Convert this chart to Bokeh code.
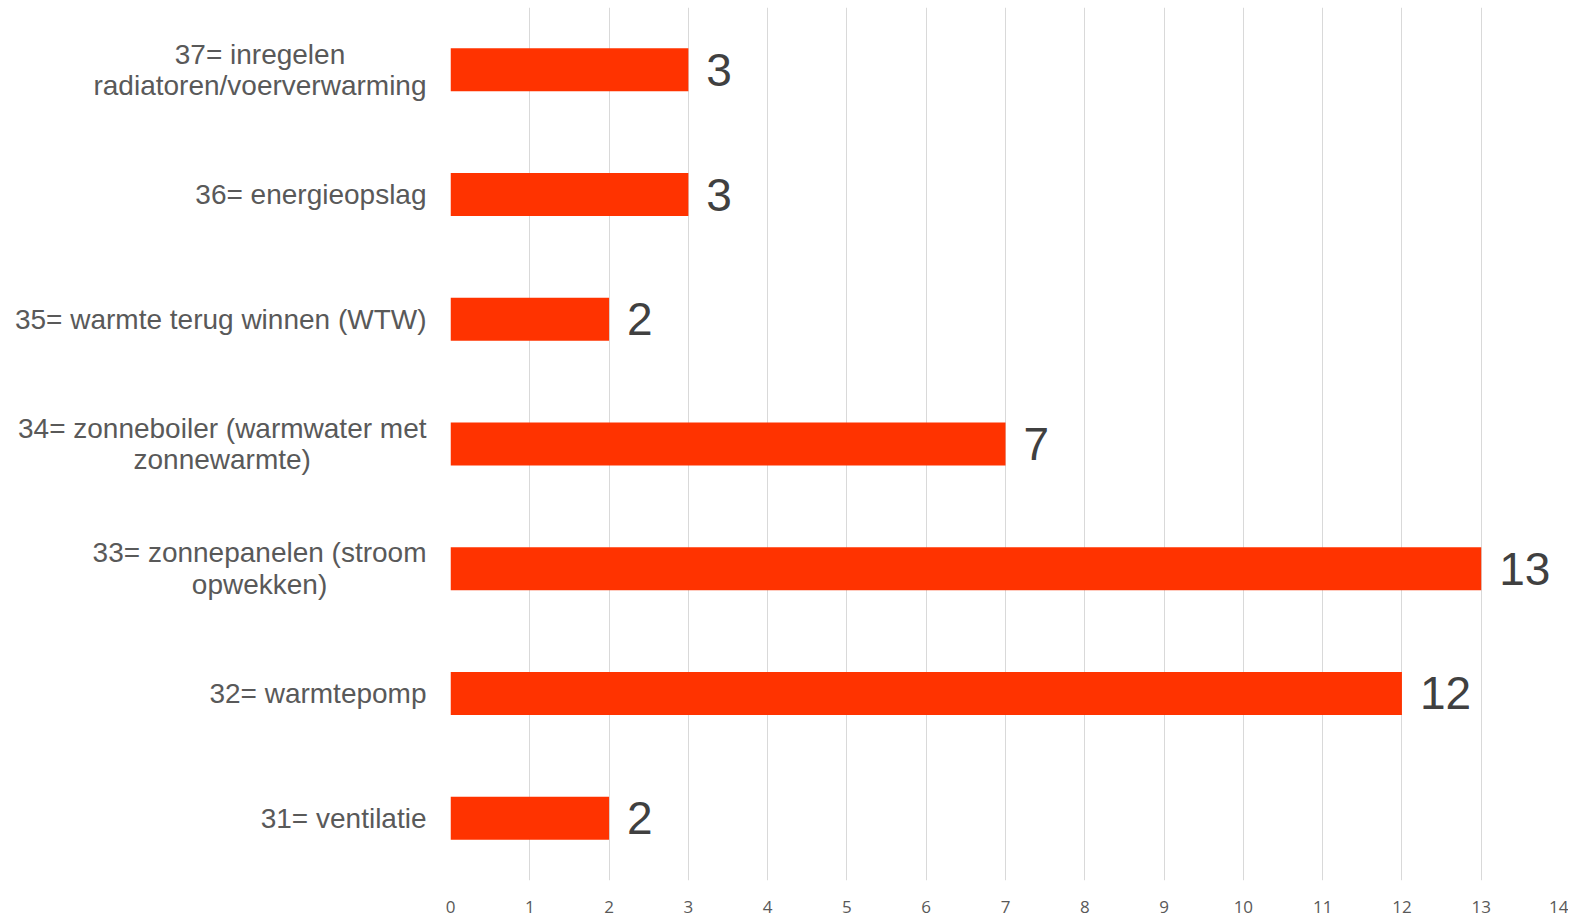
from bokeh.plotting import figure
from bokeh.models import ColumnDataSource, FactorRange, Range1d, FixedTicker
from bokeh.embed import file_html
from bokeh.resources import INLINE
from bokeh.core.properties import value

categories = [
    "31= ventilatie",
    "32= warmtepomp",
    "33= zonnepanelen (stroom\nopwekken)",
    "34= zonneboiler (warmwater met\nzonnewarmte)",
    "35= warmte terug winnen (WTW)",
    "36= energieopslag",
    "37= inregelen\nradiatoren/voerverwarming",
]
counts = [2, 12, 13, 7, 2, 3, 3]
x_ticks = list(range(0, 15))

src = ColumnDataSource(dict(cat=categories, n=counts, lbl=[str(v) for v in counts],
                            zero=[0] * len(counts)))

p = figure(
    y_range=FactorRange(*categories, range_padding=0),
    x_range=Range1d(0, 14),
    frame_width=1110, frame_height=873,
    min_border_left=450, min_border_right=8, min_border_top=7, min_border_bottom=36,
    output_backend="svg", toolbar_location=None,
    background_fill_color="white", border_fill_color="white",
)
p.outline_line_color = None

p.hbar(y="cat", right="n", left=0, height=0.345, source=src,
       fill_color="#FF3300", line_color=None)
p.text(x="n", y="cat", text="lbl", source=src, x_offset=18,
       text_align="left", text_baseline="middle",
       text_font=value("Liberation Sans"), text_font_size="46px", text_color="#404040")

# category labels, lines centred within a right-anchored block
p.text(x="zero", y="cat", text="cat", source=src, x_offset=-24,
       anchor="center_right", text_align="center", text_baseline="middle",
       text_font=value("Liberation Sans"), text_font_size="28px",
       text_color="#595959", text_line_height=1.02, level="overlay")

p.xgrid.ticker = FixedTicker(ticks=x_ticks)
p.xgrid.grid_line_color = "#d9d9d9"
p.xgrid.grid_line_width = 1
p.ygrid.grid_line_color = None

p.xaxis.ticker = FixedTicker(ticks=x_ticks)
p.xaxis.axis_line_color = None
p.xaxis.major_tick_line_color = None
p.xaxis.minor_tick_line_color = None
p.xaxis.major_tick_out = 0
p.xaxis.major_label_standoff = 20
p.xaxis.major_label_text_font = "Open Sans"
p.xaxis.major_label_text_font_size = "17px"
p.xaxis.major_label_text_color = "#595959"

p.yaxis.visible = False

open("out.html", "w").write(file_html(p, INLINE))
